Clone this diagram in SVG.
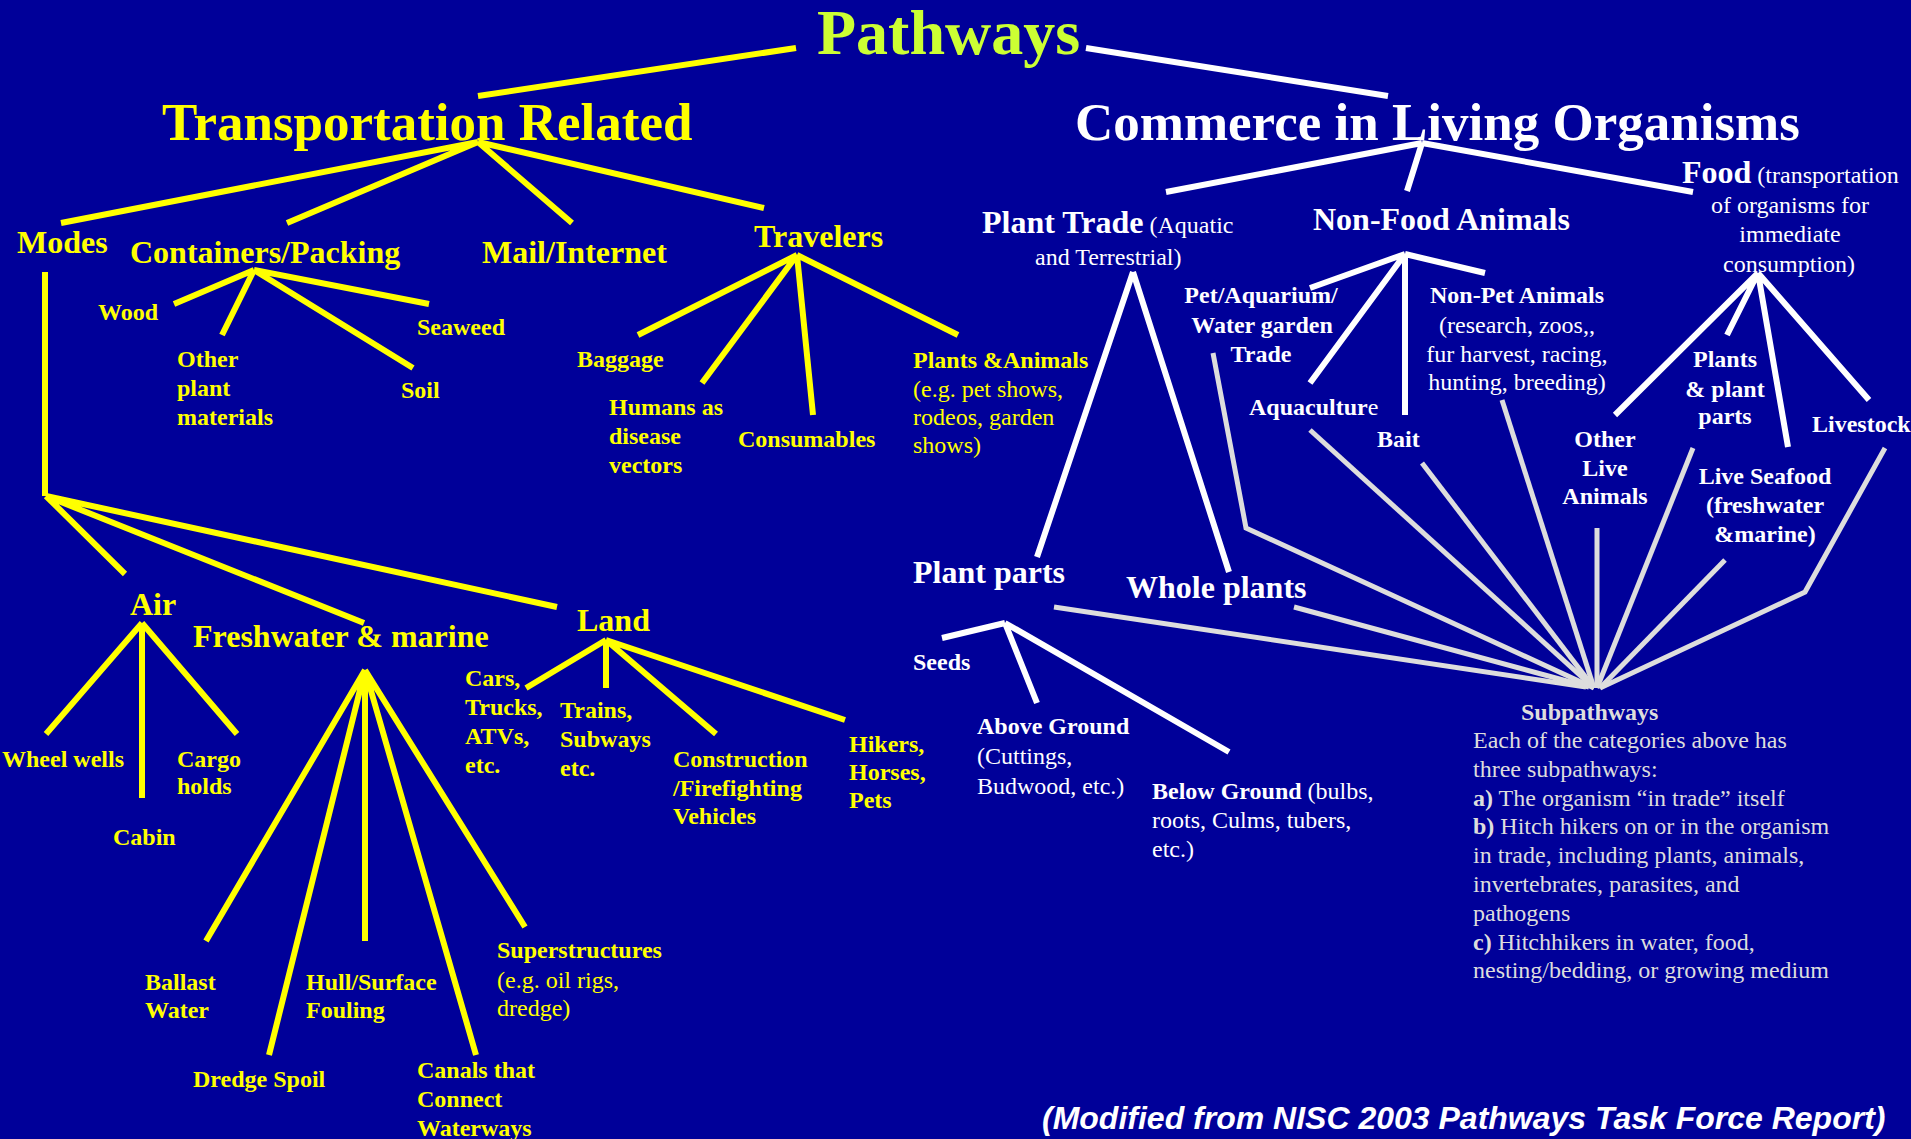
<svg xmlns="http://www.w3.org/2000/svg" width="1911" height="1139" viewBox="0 0 1911 1139">
<style>
text{font-family:"Liberation Serif","Times New Roman",serif}
text.src{font-family:"Liberation Sans",Arial,sans-serif;font-size:32px;font-weight:bold;font-style:italic;fill:#FFFFFF}
.b{font-weight:bold}
.h1{font-size:53px;font-weight:bold}
.h2{font-size:32px;font-weight:bold}
.s{font-size:24px}
.y{fill:#FFFF00}
.w{fill:#FFFFFF}
.g{fill:#DDDDDD}
.n{font-weight:normal}
.mid{text-anchor:middle}
.ly{stroke:#FFFF00;stroke-width:6;fill:none}
.lw{stroke:#FFFFFF;stroke-width:6;fill:none}
.lg{stroke:#DDDDDD;stroke-width:5;fill:none}
</style>
<rect x="0" y="0" width="1911" height="1139" fill="#000099"/>
<g id="connectors">
<line class="ly" stroke-width="7" x1="478" y1="96" x2="796" y2="48"/>
<line class="lw" stroke-width="7" x1="1086" y1="48" x2="1388" y2="96"/>
<path class="ly" d="M478,142L61,223M478,142L287,223M478,142L572,223M478,142L764,208"/>
<line class="ly" stroke-width="3" x1="45" y1="272" x2="45" y2="496"/>
<path class="ly" d="M46,496L125,574M46,496L364,623M46,496L557,607"/>
<path class="ly" d="M254,270L174,304M254,270L222,335M254,270L413,368M254,270L429,304"/>
<path class="ly" d="M797,255L638,335M797,255L702,383M797,255L813,415M797,255L958,335"/>
<path class="ly" d="M142,623L46,734M142,623L142,798M142,623L237,734"/>
<path class="ly" d="M365,670L206,941M365,670L269,1055M365,670L365,941M365,670L476,1055M365,670L525,927"/>
<path class="ly" d="M606,640L526,688M606,640L606,688M606,640L716,734M606,640L845,720"/>
<path class="lw" d="M1422,143L1166,192M1422,143L1407,191M1422,143L1693,192"/>
<path class="lw" d="M1133,272L1037,557M1133,272L1229,572"/>
<path class="lw" d="M1405,254L1310,288M1405,254L1310,383M1405,254L1405,415M1405,254L1485,273"/>
<path class="lw" d="M1758,273L1615,415M1758,273L1727,335M1758,273L1788,447M1758,273L1869,400"/>
<path class="lw" d="M1005,623L942,638M1005,623L1037,703M1005,623L1229,752"/>
<line class="lg" stroke-width="8" x1="1054" y1="607" x2="1586" y2="687"/>
<line class="lg" stroke-width="7" x1="1294" y1="607" x2="1589" y2="687"/>
<polyline class="lg" points="1213,353 1246,528 1594,688"/>
<line class="lg" x1="1310" y1="430" x2="1594" y2="688"/>
<line class="lg" x1="1422" y1="463" x2="1594" y2="688"/>
<line class="lg" x1="1502" y1="400" x2="1594" y2="688"/>
<line class="lg" x1="1597" y1="528" x2="1597" y2="688"/>
<line class="lg" x1="1693" y1="448" x2="1597" y2="688"/>
<line class="lg" x1="1725" y1="560" x2="1600" y2="688"/>
<polyline class="lg" points="1885,448 1805,592 1600,688"/>
</g>
<g id="pathways"><text x="817" y="54" class="b" font-size="64" fill="#CCFF33">Pathways</text></g>
<g id="transportation"><text x="162" y="140" class="h1 y">Transportation Related</text></g>
<g id="commerce"><text x="1075" y="140" class="h1 w">Commerce in Living Organisms</text></g>
<g id="modes"><text x="17" y="253" class="h2 y">Modes</text></g>
<g id="containers"><text x="130" y="263" class="h2 y">Containers/Packing</text></g>
<g id="mail"><text x="482" y="263" class="h2 y">Mail/Internet</text></g>
<g id="travelers"><text x="754" y="247" class="h2 y">Travelers</text></g>
<g id="wood"><text x="98" y="320" class="s b y">Wood</text></g>
<g id="seaweed"><text x="417" y="335" class="s b y">Seaweed</text></g>
<g id="other-plant"><text class="s b y"><tspan x="177" y="367">Other</tspan><tspan x="177" y="396">plant</tspan><tspan x="177" y="425">materials</tspan></text></g>
<g id="soil"><text x="401" y="398" class="s b y">Soil</text></g>
<g id="baggage"><text x="577" y="367" class="s b y">Baggage</text></g>
<g id="humans"><text class="s b y"><tspan x="609" y="415">Humans as</tspan><tspan x="609" y="444">disease</tspan><tspan x="609" y="473">vectors</tspan></text></g>
<g id="consumables"><text x="738" y="447" class="s b y">Consumables</text></g>
<g id="plants-animals"><text class="s y"><tspan x="913" y="368" class="b">Plants &amp;Animals</tspan><tspan x="913" y="397">(e.g. pet shows,</tspan><tspan x="913" y="425">rodeos, garden</tspan><tspan x="913" y="453">shows)</tspan></text></g>
<g id="air"><text x="130" y="615" class="h2 y">Air</text></g>
<g id="freshwater"><text x="193" y="647" class="h2 y">Freshwater &amp; marine</text></g>
<g id="land"><text x="577" y="631" class="h2 y">Land</text></g>
<g id="wheel-wells"><text x="2" y="767" class="s b y">Wheel wells</text></g>
<g id="cargo"><text class="s b y"><tspan x="177" y="767">Cargo</tspan><tspan x="177" y="794">holds</tspan></text></g>
<g id="cabin"><text x="113" y="845" class="s b y">Cabin</text></g>
<g id="ballast"><text class="s b y"><tspan x="145" y="990">Ballast</tspan><tspan x="145" y="1018">Water</tspan></text></g>
<g id="hull"><text class="s b y"><tspan x="306" y="990">Hull/Surface</tspan><tspan x="306" y="1018">Fouling</tspan></text></g>
<g id="dredge"><text x="193" y="1087" class="s b y">Dredge Spoil</text></g>
<g id="canals"><text class="s b y"><tspan x="417" y="1078">Canals that</tspan><tspan x="417" y="1107">Connect</tspan><tspan x="417" y="1136">Waterways</tspan></text></g>
<g id="superstructures"><text class="s y"><tspan x="497" y="958" class="b">Superstructures</tspan><tspan x="497" y="988">(e.g. oil rigs,</tspan><tspan x="497" y="1016">dredge)</tspan></text></g>
<g id="cars"><text class="s b y"><tspan x="465" y="686">Cars,</tspan><tspan x="465" y="715">Trucks,</tspan><tspan x="465" y="744">ATVs,</tspan><tspan x="465" y="773">etc.</tspan></text></g>
<g id="trains"><text class="s b y"><tspan x="560" y="718">Trains,</tspan><tspan x="560" y="747">Subways</tspan><tspan x="560" y="776">etc.</tspan></text></g>
<g id="construction"><text class="s b y"><tspan x="673" y="767">Construction</tspan><tspan x="673" y="796">/Firefighting</tspan><tspan x="673" y="824">Vehicles</tspan></text></g>
<g id="hikers"><text class="s b y"><tspan x="849" y="752">Hikers,</tspan><tspan x="849" y="780">Horses,</tspan><tspan x="849" y="808">Pets</tspan></text></g>
<g id="plant-trade"><text class="w"><tspan x="982" y="233" class="h2">Plant Trade</tspan><tspan class="s"> (Aquatic</tspan><tspan x="1035" y="265" class="s">and Terrestrial)</tspan></text></g>
<g id="non-food"><text x="1313" y="230" class="h2 w">Non-Food Animals</text></g>
<g id="food"><text class="w"><tspan x="1682" y="183" class="h2">Food</tspan><tspan class="s"> (transportation</tspan></text><text class="s w mid"><tspan x="1790" y="213">of organisms for</tspan><tspan x="1790" y="242">immediate</tspan><tspan x="1789" y="272">consumption)</tspan></text></g>
<g id="pet"><text class="s b w mid"><tspan x="1261" y="303">Pet/Aquarium/</tspan><tspan x="1262" y="333">Water garden</tspan><tspan x="1261" y="362">Trade</tspan></text></g>
<g id="non-pet"><text class="s w mid"><tspan x="1517" y="303" class="b">Non-Pet Animals</tspan><tspan x="1517" y="333">(research, zoos,,</tspan><tspan x="1517" y="362">fur harvest, racing,</tspan><tspan x="1517" y="390">hunting, breeding)</tspan></text></g>
<g id="aquaculture"><text x="1249" y="415" class="s b w">Aquacultur<tspan class="n">e</tspan></text></g>
<g id="bait"><text x="1377" y="447" class="s b w">Bait</text></g>
<g id="other-live"><text class="s b w mid"><tspan x="1605" y="447">Other</tspan><tspan x="1605" y="476">Live</tspan><tspan x="1605" y="504">Animals</tspan></text></g>
<g id="plants-parts"><text class="s b w mid"><tspan x="1725" y="367">Plants</tspan><tspan x="1725" y="397">&amp; plant</tspan><tspan x="1725" y="424">parts</tspan></text></g>
<g id="livestock"><text x="1812" y="432" class="s b w">Livestock</text></g>
<g id="live-seafood"><text class="s b w mid"><tspan x="1765" y="484">Live Seafood</tspan><tspan x="1765" y="513">(freshwater</tspan><tspan x="1765" y="542">&amp;marine)</tspan></text></g>
<g id="plant-parts"><text x="913" y="583" class="h2 w">Plant parts</text></g>
<g id="whole-plants"><text x="1126" y="598" class="h2 w">Whole plants</text></g>
<g id="seeds"><text x="913" y="670" class="s b w">Seeds</text></g>
<g id="above-ground"><text class="s w"><tspan x="977" y="734" class="b">Above Ground</tspan><tspan x="977" y="764">(Cuttings,</tspan><tspan x="977" y="794">Budwood, etc.)</tspan></text></g>
<g id="below-ground"><text class="s w"><tspan x="1152" y="799" class="b">Below Ground</tspan><tspan> (bulbs,</tspan><tspan x="1152" y="828">roots, Culms, tubers,</tspan><tspan x="1152" y="857">etc.)</tspan></text></g>
<g id="subpathways"><text class="s g"><tspan x="1521" y="720" class="b">Subpathways</tspan><tspan x="1473" y="748">Each of the categories above has</tspan><tspan x="1473" y="777">three subpathways:</tspan><tspan x="1473" y="806" class="b">a)</tspan><tspan> The organism “in trade” itself</tspan><tspan x="1473" y="834" class="b">b)</tspan><tspan> Hitch hikers on or in the organism</tspan><tspan x="1473" y="863">in trade, including plants, animals,</tspan><tspan x="1473" y="892">invertebrates, parasites, and</tspan><tspan x="1473" y="921">pathogens</tspan><tspan x="1473" y="950" class="b">c)</tspan><tspan> Hitchhikers in water, food,</tspan><tspan x="1473" y="978">nesting/bedding, or growing medium</tspan></text></g>
<g id="source"><text x="1042" y="1129" class="src">(Modified from NISC 2003 Pathways Task Force Report)</text></g>
</svg>
